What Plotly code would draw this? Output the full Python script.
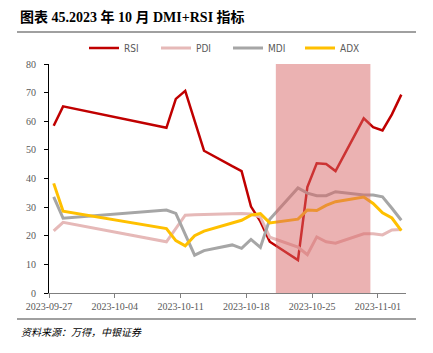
import plotly.graph_objects as go

dates = ["2023-09-27", "2023-09-28", "2023-10-09", "2023-10-10", "2023-10-11", "2023-10-12",
         "2023-10-13", "2023-10-16", "2023-10-17", "2023-10-18", "2023-10-19", "2023-10-20",
         "2023-10-23", "2023-10-24", "2023-10-25", "2023-10-26", "2023-10-27", "2023-10-30",
         "2023-10-31", "2023-11-01", "2023-11-02", "2023-11-03"]

rsi = [58.4, 65.2, 57.7, 67.8, 70.6, 60.1, 49.7, 44.3, 42.6, 30.2, 25.0, 17.9,
       11.5, 37.0, 45.3, 45.1, 42.6, 61.0, 57.9, 56.8, 62.4, 69.3]
pdi = [21.7, 24.7, 17.9, 22.6, 27.2, 27.3, 27.4, 27.7, 27.8, 27.6, 26.5, 19.5,
       16.0, 13.4, 19.6, 17.9, 17.4, 20.7, 20.7, 20.3, 22.0, 22.2]
mdi = [33.6, 26.1, 29.0, 27.8, 20.5, 13.2, 14.8, 16.8, 15.6, 18.7, 15.9, 25.8,
       36.7, 34.9, 34.0, 34.0, 35.4, 34.2, 34.2, 33.6, 29.6, 25.4]
adx = [38.3, 28.6, 22.5, 18.3, 16.5, 20.0, 21.6, 24.5, 25.4, 27.2, 27.7, 24.5,
       25.8, 29.0, 28.8, 30.6, 31.9, 33.5, 31.3, 28.0, 26.2, 21.8]

series_names = ["RSI", "PDI", "MDI", "ADX"]
series_colors = ["#C00000", "#E6B9B8", "#A6A6A6", "#FFC000"]
series_widths = [2.5, 3, 3, 3]

shade_start = "2023-10-21 03:30"
shade_end = "2023-10-31 05:00"

# points sit in the middle of each day slot
xs = [d + " 12:00" for d in dates]

fig = go.Figure()
for name, vals, col, w in zip(series_names, [rsi, pdi, mdi, adx], series_colors, series_widths):
    fig.add_trace(go.Scatter(x=xs, y=vals, name=name, mode="lines",
                             line=dict(color=col, width=w)))

fig.add_shape(type="rect", xref="x", yref="y", x0=shade_start, x1=shade_end, y0=0, y1=80,
              fillcolor="rgb(215,101,101)", opacity=0.5, line=dict(width=0), layer="above")

W, H = 433, 353
# title and rules
fig.add_annotation(text="<b>图表 45.2023 年 10 月 DMI+RSI 指标</b>", xref="paper", yref="paper",
                   x=(18 - 49) / 357, y=1 + (64 - 17) / 229, xanchor="left", yanchor="middle",
                   showarrow=False, font=dict(family="Liberation Serif, Noto Sans CJK SC", size=14, color="#000000"))
fig.add_shape(type="line", xref="paper", yref="paper", x0=(17 - 49) / 357, x1=(416 - 49) / 357,
              y0=1 + (64 - 32) / 229, y1=1 + (64 - 32) / 229, line=dict(color="#808080", width=1.5))
fig.add_shape(type="line", xref="paper", yref="paper", x0=(17 - 49) / 357, x1=(416 - 49) / 357,
              y0=-(319 - 293) / 229, y1=-(319 - 293) / 229, line=dict(color="#808080", width=1.5))
fig.add_annotation(text="<i>资料来源：万得，中银证券</i>", xref="paper", yref="paper",
                   x=(19 - 49) / 357, y=-(332 - 293) / 229, xanchor="left", yanchor="middle",
                   showarrow=False, font=dict(family="Liberation Serif, Noto Sans CJK SC", size=10, color="#000000"))

fig.update_layout(
    width=W, height=H,
    margin=dict(l=49, r=27, t=64, b=60),
    paper_bgcolor="white", plot_bgcolor="white",
    showlegend=True,
    legend=dict(orientation="h", x=(84 - 49) / 357, y=1 + (64 - 48) / 229, xanchor="left", yanchor="middle",
                font=dict(family="Liberation Sans Narrow, DejaVu Sans Condensed, Arial", size=10, color="#595959"),
                entrywidth=27, entrywidthmode="pixels", itemwidth=30, bgcolor="rgba(0,0,0,0)"),
    xaxis=dict(type="date", range=["2023-09-27", "2023-11-04"], tick0="2023-09-27", dtick=7 * 86400000,
               tickformat="%Y-%m-%d", showgrid=False, zeroline=False, showline=True, linecolor="#7f7f7f",
               linewidth=1, ticks="outside", ticklen=4, tickcolor="#7f7f7f",
               tickfont=dict(family="Liberation Serif", size=10, color="#595959")),
    yaxis=dict(range=[0, 80], dtick=10, showgrid=False, zeroline=False, showline=True, linecolor="#000000",
               linewidth=1, ticks="outside", ticklen=4, tickcolor="#000000", ticklabelstandoff=6,
               tickfont=dict(family="Liberation Serif", size=10, color="#595959")),
)

fig.write_html("out.html")
